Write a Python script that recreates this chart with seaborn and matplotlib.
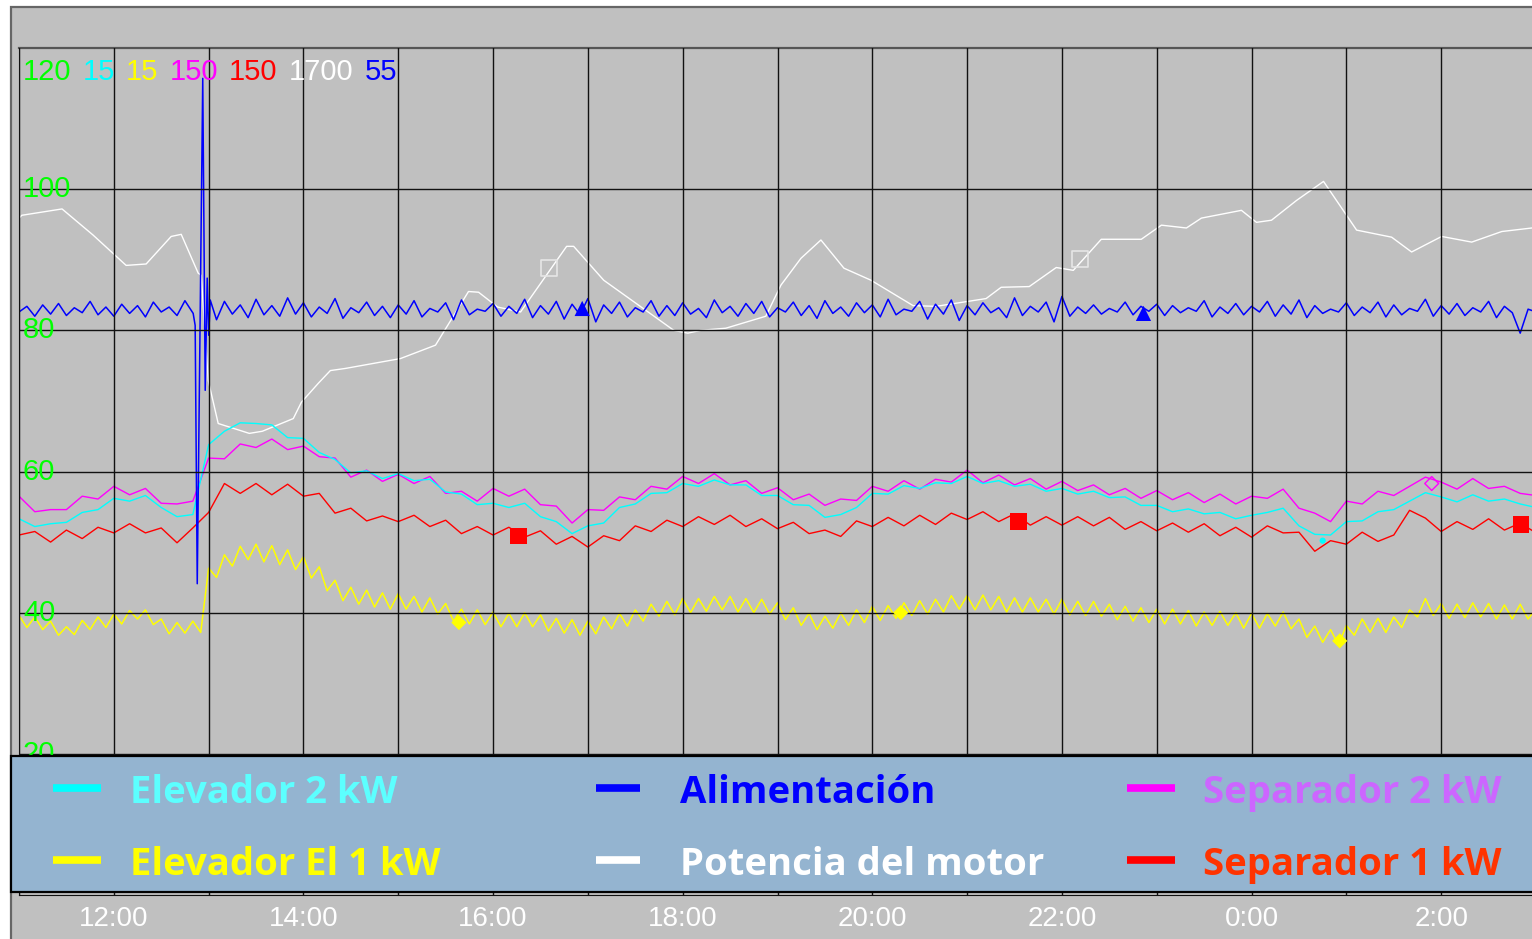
import matplotlib
matplotlib.use("Agg")
import matplotlib.pyplot as plt
import matplotlib.patches as mpatches
import matplotlib.transforms as mtransforms
from matplotlib.lines import Line2D
import numpy as np
import seaborn as sns

# time in hours from midnight of day 1 (24 = 0:00, 27 = 3:00 next day)
t5 = np.arange(11, 27 + 1e-9, 5 / 60)
t10 = np.arange(11, 27 + 1e-9, 10 / 60)

# all values are on the chart's 0-120 scale
yellow_vals = [
    39.6, 37.9, 39.4, 37.6, 38.8, 36.8, 38.0, 36.9, 38.9, 37.6, 39.4, 37.9,
    39.8, 38.4, 40.3, 39.1, 40.4, 38.3, 39.1, 37.0, 38.6, 37.1, 38.8, 37.2,
    46.3, 45.0, 48.2, 46.6, 49.4, 47.5, 49.7, 47.2, 49.5, 46.8, 48.9, 46.1,
    47.9, 44.9, 46.5, 43.1, 44.6, 41.7, 43.6, 41.2, 43.2, 40.8, 42.8, 40.5,
    42.7, 40.5, 42.3, 40.1, 42.1, 39.8, 41.3, 38.8, 40.5, 38.4, 40.4, 38.3,
    40.1, 38.0, 39.9, 38.0, 40.0, 38.0, 39.7, 37.4, 39.2, 37.1, 39.0, 36.8,
    38.8, 37.0, 39.4, 37.7, 39.9, 38.1, 40.4, 38.8, 41.2, 39.5, 41.6, 39.7,
    42.0, 40.0, 42.0, 40.2, 42.3, 40.4, 42.3, 40.1, 42.0, 40.0, 41.9, 39.8,
    41.4, 39.0, 40.7, 38.2, 39.9, 37.6, 39.5, 37.8, 40.0, 38.2, 40.4, 38.6,
    40.9, 38.9, 41.0, 39.2, 41.4, 39.6, 41.7, 39.8, 41.9, 40.1, 42.4, 40.5,
    42.4, 40.4, 42.5, 40.4, 42.3, 40.1, 42.1, 40.1, 42.1, 40.1, 41.9, 39.8,
    41.9, 39.7, 41.6, 39.6, 41.6, 39.5, 41.2, 39.0, 40.9, 38.8, 40.7, 38.6,
    40.5, 38.4, 40.5, 38.4, 40.3, 38.1, 40.1, 38.2, 40.2, 38.2, 40.0, 37.8,
    39.9, 37.8, 39.9, 38.1, 40.1, 37.7, 39.1, 36.5, 38.1, 35.8, 37.6, 35.4,
    38.2, 36.8, 39.1, 37.2, 39.2, 37.2, 39.4, 37.9, 40.4, 39.4, 42.0, 39.6,
    41.3, 39.2, 41.2, 39.3, 41.4, 39.4, 41.3, 39.1, 41.1, 39.1, 41.2, 39.1,
    40.6,
]

blue_vals = [
    82.6, 83.4, 82.0, 83.6, 82.3, 83.8, 82.1, 83.2, 82.5, 84.1, 82.2, 83.3,
    82.0, 83.7, 82.4, 83.5, 81.9, 84.0, 82.6, 83.3, 82.1, 84.2, 82.4, 82.9,
    83.4, 81.5, 84.1, 82.3, 83.6, 81.8, 84.4, 82.2, 83.5, 82.0, 84.6, 82.3,
    83.9, 81.9, 83.3, 82.4, 84.5, 81.7, 83.2, 82.5, 84.0, 82.1, 83.4, 81.8,
    83.6, 82.3, 84.2, 81.9, 83.1, 82.6, 83.9, 81.5, 84.3, 82.2, 83.0, 82.7,
    83.8, 82.0, 83.4, 82.4, 84.4, 81.8, 83.5, 82.3, 84.1, 81.6, 83.7, 82.2,
    84.5, 81.2, 83.6, 82.4, 84.0, 81.9, 83.2, 82.6, 84.2, 82.0, 83.5, 82.1,
    83.9, 82.3, 83.1, 81.8, 84.3, 82.5, 83.4, 82.0, 83.8, 82.4, 84.1, 81.9,
    83.2, 82.6, 84.0, 82.1, 83.5, 81.7, 84.2, 82.4, 83.3, 82.0, 83.9, 82.5,
    83.6, 81.9, 84.4, 82.2, 83.0, 82.7, 84.1, 81.6, 83.7, 82.3, 84.3, 81.4,
    83.5, 82.2, 83.9, 82.5, 83.2, 81.8, 84.6, 82.1, 83.4, 82.6, 84.0, 81.2,
    84.8, 82.0, 83.3, 82.4, 83.6, 82.3, 83.1, 82.6, 84.0, 82.2, 83.4, 82.7,
    83.7, 82.1, 83.5, 82.5, 83.2, 82.7, 84.2, 81.9, 83.3, 82.4, 83.8, 82.2,
    83.4, 82.6, 84.1, 82.0, 83.6, 82.3, 84.3, 81.8, 83.5, 82.4, 83.0, 82.6,
    83.9, 82.1, 83.3, 82.5, 84.0, 81.9, 83.6, 82.2, 83.1, 82.7, 84.4, 82.0,
    83.5, 82.3, 83.8, 82.1, 83.2, 82.6, 84.1, 81.8, 83.4, 82.5, 79.6, 83.0,
    82.6,
]
# start-up transient of the feed around 12:52
blue_spike_t = [12.837, 12.858, 12.880, 12.938, 12.964, 12.985, 13.001, 13.017]
blue_spike_v = [82.4, 80.7, 44.1, 115.7, 71.5, 87.4, 79.3, 84.3]

cyan_vals = [
    53.3, 52.2, 52.6, 52.8, 54.2, 54.6,
    56.2, 55.8, 56.6, 54.9, 53.6, 53.9,
    63.8, 65.7, 66.9, 66.8, 66.6, 64.8,
    64.7, 62.7, 61.7, 59.8, 60.1, 59.0,
    59.7, 58.7, 58.9, 57.1, 56.8, 55.3,
    55.5, 54.9, 55.5, 53.6, 52.9, 51.2,
    52.3, 52.7, 54.9, 55.4, 56.9, 57.0,
    58.3, 57.9, 58.8, 58.1, 58.1, 56.6,
    56.6, 55.3, 55.2, 53.5, 53.9, 54.9,
    56.9, 56.8, 58.0, 57.6, 58.4, 58.3,
    59.3, 58.3, 58.7, 57.9, 58.2, 57.2,
    57.6, 56.8, 57.2, 56.3, 56.4, 55.2,
    55.2, 54.3, 54.7, 54.0, 54.2, 53.3,
    53.8, 54.2, 54.8, 52.3, 51.1, 51.0,
    52.9, 53.0, 54.3, 54.6, 55.8, 57.0,
    56.4, 55.7, 56.7, 55.8, 56.1, 55.4,
    54.9,
]

magenta_vals = [
    56.5, 54.3, 54.6, 54.6, 56.5, 56.1,
    57.9, 56.7, 57.6, 55.5, 55.4, 55.8,
    61.9, 61.8, 63.9, 63.4, 64.6, 63.1,
    63.6, 62.1, 61.9, 59.2, 60.2, 58.6,
    59.6, 58.3, 59.3, 56.9, 57.2, 55.8,
    57.6, 56.5, 57.5, 55.3, 55.1, 52.7,
    54.6, 54.5, 56.4, 56.0, 57.9, 57.5,
    59.3, 58.3, 59.7, 58.1, 58.7, 56.9,
    57.7, 56.0, 56.8, 55.2, 56.1, 55.9,
    57.9, 57.2, 58.7, 57.5, 58.9, 58.5,
    60.2, 58.4, 59.5, 58.1, 59.0, 57.5,
    58.6, 57.3, 58.1, 56.7, 57.6, 56.2,
    57.3, 56.0, 57.0, 55.6, 56.8, 55.4,
    56.5, 56.2, 57.5, 54.8, 54.1, 52.9,
    55.8, 55.4, 57.2, 56.6, 57.9, 59.2,
    58.5, 57.5, 59.0, 57.6, 57.9, 56.9,
    56.6,
]

red_vals = [
    51.0, 51.5, 50.0, 51.7, 50.5, 52.1,
    51.3, 52.6, 51.3, 52.0, 49.9, 52.0,
    54.2, 58.3, 56.9, 58.3, 56.7, 58.2,
    56.5, 56.9, 54.1, 54.8, 53.0, 53.7,
    52.9, 53.8, 52.2, 53.1, 51.2, 52.2,
    51.0, 52.1, 50.7, 51.6, 49.7, 50.8,
    49.3, 50.9, 50.2, 52.3, 51.5, 53.1,
    52.2, 53.6, 52.5, 53.8, 52.2, 53.3,
    51.9, 52.8, 51.2, 51.7, 50.8, 53.0,
    52.2, 53.5, 52.3, 53.8, 52.5, 54.1,
    53.2, 54.3, 52.9, 54.0, 52.4, 53.6,
    52.4, 53.6, 52.3, 53.5, 51.8, 52.9,
    51.6, 52.7, 51.4, 52.6, 50.9, 52.1,
    50.7, 52.3, 51.3, 51.4, 48.7, 50.2,
    49.7, 51.4, 50.1, 51.0, 54.5, 53.4,
    51.5, 52.9, 51.8, 53.3, 51.7, 52.7,
    51.3,
]

# motor power is logged less often: straight segments between samples
white_t = [11.0, 11.03, 11.454, 11.781, 12.13, 12.341, 12.605, 12.711, 12.89, 12.922,
           12.996, 13.101, 13.429, 13.566, 13.893, 13.978, 14.157, 14.284, 14.442, 15.023,
           15.393, 15.741, 15.847, 16.048, 16.29, 16.776, 16.85, 17.167, 17.906, 18.054,
           18.191, 18.455, 18.877, 19.036, 19.247, 19.458, 19.701, 19.986, 20.43, 20.673,
           21.2, 21.359, 21.655, 21.94, 22.12, 22.415, 22.837, 23.049, 23.313, 23.471,
           23.893, 24.052, 24.21, 24.474, 24.759, 25.108, 25.477, 25.688, 26.005, 26.322,
           26.639, 26.956]
white_v = [95.9, 96.3, 97.2, 93.5, 89.2, 89.4, 93.3, 93.6, 88.1, 87.8,
           72.9, 66.8, 65.4, 65.7, 67.5, 69.8, 72.5, 74.3, 74.6, 76.0,
           77.9, 85.5, 85.4, 83.3, 82.6, 91.9, 91.9, 87.1, 80.0, 79.6,
           80.0, 80.3, 82.0, 86.4, 90.2, 92.8, 88.8, 87.1, 83.5, 83.4,
           84.5, 86.1, 86.2, 88.9, 88.5, 92.9, 92.9, 94.9, 94.5, 95.9,
           97.0, 95.3, 95.6, 98.4, 101.1, 94.2, 93.2, 91.1, 93.3, 92.5,
           94.0, 94.5]

# trace identification markers
red_mark_t, red_mark_v = [16.27, 21.54, 26.84], [50.9, 52.9, 52.5]
yellow_mark_t, yellow_mark_v = [15.64, 20.30, 24.93], [38.6, 40.0, 36.0]
blue_mark_t, blue_mark_v = [16.94, 22.86], [83.1, 82.4]
white_mark_t, white_mark_v = [16.59, 22.19], [88.8, 90.1]
magenta_mark_t, magenta_mark_v = [25.90], [58.3]
cyan_mark_t, cyan_mark_v = [24.75], [50.2]

scale_labels = ["120", "15", "15", "150", "150", "1700", "55"]
scale_colors = ["#00FF00", "#00FFFF", "#FFFF00", "#FF00FF", "#FF0000", "#FFFFFF", "#0000FF"]
y_ticks = [20, 40, 60, 80, 100]
x_hours = list(range(12, 27, 2))
x_labels = ["12:00", "14:00", "16:00", "18:00", "20:00", "22:00", "0:00", "2:00"]

legend_labels = ["Elevador 2 kW", "Alimentación", "Separador 2 kW",
                 "Elevador El 1 kW", "Potencia del motor", "Separador 1 kW"]
legend_line_colors = ["#00FFFF", "#0000FF", "#FF00FF", "#FFFF00", "#FFFFFF", "#FF0000"]
legend_text_colors = ["#5CFFFF", "#0000FF", "#CC66FF", "#FFFF00", "#FFFFFF", "#FF3300"]

# ---------------------------------------------------------------
W, H = 1532, 939
fig = plt.figure(figsize=(W / 100, H / 100), dpi=100)
fig.patch.set_facecolor("white")


def fx(px):
    return px / W


def fy(py):
    return 1 - py / H


# grey frame around everything
panel = mpatches.Rectangle((fx(11), -0.05), 1.1, fy(7) + 0.05, transform=fig.transFigure,
                           facecolor="#C0C0C0", edgecolor="#666666", lw=1.6, zorder=-2)
fig.add_artist(panel)

ax = fig.add_axes([fx(19), fy(895), (1536 - 19) / W, (895 - 48) / H])
ax.set_facecolor("#C0C0C0")

# blue with its transient spliced in
keep = (t5 < 12.83) | (t5 > 13.02)
blue_t = np.concatenate([t5[keep], blue_spike_t])
blue_v = np.concatenate([np.array(blue_vals)[keep], blue_spike_v])
order = np.argsort(blue_t)
blue_t, blue_v = blue_t[order], blue_v[order]

sns.lineplot(x=t10, y=red_vals, ax=ax, color="#FF0000", lw=1.0, estimator=None)
sns.lineplot(x=t10, y=magenta_vals, ax=ax, color="#FF00FF", lw=1.0, estimator=None)
sns.lineplot(x=t5, y=yellow_vals, ax=ax, color="#FFFF00", lw=1.1, estimator=None)
sns.lineplot(x=white_t, y=white_v, ax=ax, color="#FFFFFF", lw=1.0, estimator=None)
sns.lineplot(x=t10, y=cyan_vals, ax=ax, color="#00FFFF", lw=1.0, estimator=None)
sns.lineplot(x=blue_t, y=blue_v, ax=ax, color="#0000FF", lw=1.1, estimator=None, sort=False)

sns.scatterplot(x=red_mark_t, y=red_mark_v, ax=ax, marker="s", s=140, color="#FF0000",
                edgecolor="none", zorder=4)
sns.scatterplot(x=yellow_mark_t, y=yellow_mark_v, ax=ax, marker="D", s=60, color="#FFFF00",
                edgecolor="none", zorder=4)
sns.scatterplot(x=blue_mark_t, y=blue_mark_v, ax=ax, marker="^", s=120, color="#0000FF",
                edgecolor="none", zorder=4)
ax.scatter(white_mark_t, white_mark_v, marker="s", s=140, facecolors="none",
           edgecolors="#E6E6E6", linewidths=1.2, zorder=4)
ax.scatter(magenta_mark_t, magenta_mark_v, marker="D", s=50, facecolors="none",
           edgecolors="#FF00FF", linewidths=1.0, zorder=4)
sns.scatterplot(x=cyan_mark_t, y=cyan_mark_v, ax=ax, marker="o", s=20, color="#00FFFF",
                edgecolor="none", zorder=4)

ax.set_xlim(11, 27)
ax.set_ylim(0, 120)
ax.set_xlabel("")
ax.set_ylabel("")
ax.set_xticks(x_hours, labels=x_labels)
ax.set_xticks(range(11, 28, 2), minor=True)
ax.set_yticks(y_ticks)
ax.tick_params(axis="x", which="both", length=0, pad=8, colors="white", labelsize=20)
ax.tick_params(axis="y", left=False, labelleft=False)
for lab in ax.get_xticklabels():
    lab.set_fontfamily("Liberation Sans")
ax.grid(which="both", color="#111111", lw=1.0)
ax.set_axisbelow(False)
ax.spines["right"].set_visible(False)
ax.spines["top"].set_color("#555555")
ax.spines["top"].set_linewidth(1.6)
ax.spines["left"].set_color("#222222")
ax.spines["bottom"].set_color("#111111")

# green value labels sitting on the gridlines
lab_tr = mtransforms.blended_transform_factory(ax.transAxes, ax.transData) + \
    mtransforms.ScaledTranslation(4 / 100, -8 / 100, fig.dpi_scale_trans)
for v in y_ticks:
    ax.text(0, v, str(v), transform=lab_tr, color="#00FF00", fontsize=21,
            family="Liberation Sans", ha="left", va="baseline")

# full-scale values of each trace, top left
prev = fig.text(fx(23), fy(80), scale_labels[0], color=scale_colors[0], fontsize=21,
                family="Liberation Sans", ha="left", va="baseline")
for lab, col in zip(scale_labels[1:], scale_colors[1:]):
    prev = ax.annotate(lab, xy=(1, 0), xycoords=prev, xytext=(8, 0),
                       textcoords="offset points", color=col, fontsize=21,
                       family="Liberation Sans", ha="left", va="bottom")

# legend panel across the bottom
box = mpatches.Rectangle((fx(11), fy(892)), 1.1, (892 - 756) / H, transform=fig.transFigure,
                         facecolor="#94B4D0", edgecolor="black", lw=1.6, zorder=5)
fig.add_artist(box)
col_handle = [(53, 101), (596, 640), (1127, 1175)]
col_text = [130, 680, 1203]
row_base = [803, 875]
for i, (lab, lc, tc) in enumerate(zip(legend_labels, legend_line_colors, legend_text_colors)):
    r, c = divmod(i, 3)
    yc = row_base[r] - 15
    x0, x1 = col_handle[c]
    fig.add_artist(Line2D([fx(x0), fx(x1)], [fy(yc), fy(yc)], transform=fig.transFigure,
                          color=lc, lw=5.5, solid_capstyle="butt", zorder=6))
    fig.text(fx(col_text[c]), fy(row_base[r]), lab, color=tc, fontsize=27.5,
             fontweight="bold", family="Open Sans", ha="left", va="baseline", zorder=6)

fig.savefig("out.png", dpi=100, facecolor=fig.get_facecolor())
